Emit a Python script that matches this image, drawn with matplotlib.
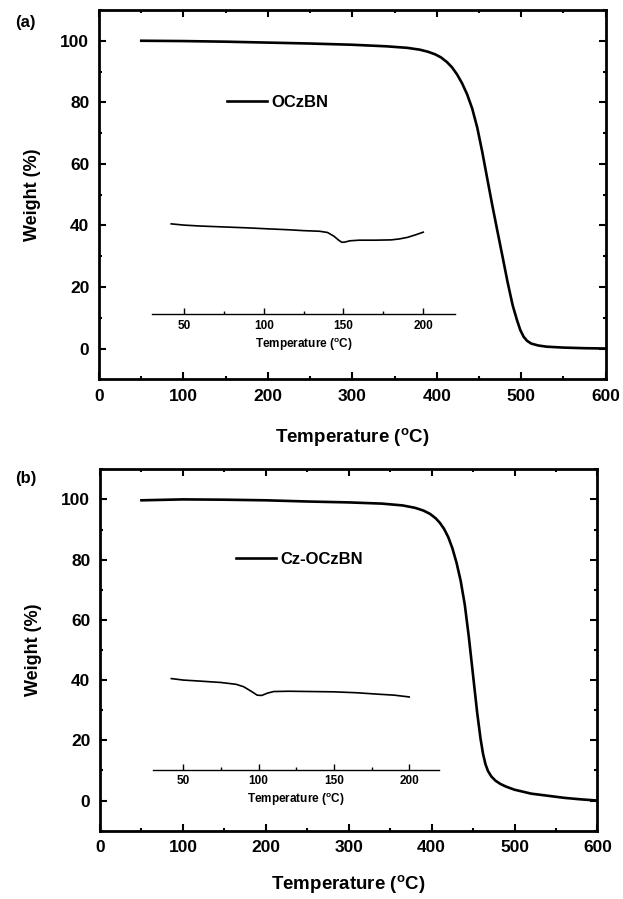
import matplotlib
matplotlib.use("Agg")
import matplotlib.pyplot as plt
from matplotlib.ticker import MultipleLocator

plt.rcParams['font.family'] = ['Liberation Sans', 'DejaVu Sans']
plt.rcParams['font.weight'] = 'bold'
plt.rcParams['mathtext.fontset'] = 'custom'
plt.rcParams['mathtext.bf'] = 'Liberation Sans:bold'
plt.rcParams['mathtext.rm'] = 'Liberation Sans:bold'

# (a) OCzBN TGA
temp_a = [50, 100, 150, 200, 250, 300, 340, 365, 380, 390, 398, 405, 412, 418, 424,
          430, 436, 442, 448, 454, 460, 466, 472, 478, 484, 490, 495, 499, 503, 507,
          512, 520, 530, 550, 575, 600]
weight_a = [100, 99.9, 99.7, 99.4, 99.1, 98.7, 98.2, 97.7, 97.1, 96.4, 95.6, 94.6,
            93.1, 91.4, 89.1, 86.2, 82.6, 78.0, 71.8, 63.8, 55.0, 46.3, 38.0, 29.8,
            21.5, 14.0, 9.3, 6.0, 3.8, 2.5, 1.6, 1.0, 0.6, 0.3, 0.1, 0.0]

# (a) inset (DSC trace, arbitrary units)
temp_a_in = [42, 50, 60, 75, 90, 102, 115, 125, 135, 140, 144, 147, 149, 151, 154,
             160, 170, 180, 185, 190, 195, 200]
sig_a_in = [40.5, 40.1, 39.8, 39.5, 39.2, 38.9, 38.6, 38.3, 38.1, 37.7, 36.5, 35.2,
            34.5, 34.6, 35.0, 35.2, 35.2, 35.3, 35.6, 36.1, 36.9, 37.8]

# (b) Cz-OCzBN TGA
temp_b = [50, 100, 150, 200, 250, 300, 340, 365, 380, 390, 398, 405, 410, 415, 420,
          425, 430, 435, 440, 445, 450, 455, 459, 462, 465, 468, 472, 477, 483, 490,
          500, 520, 540, 560, 580, 600]
weight_b = [99.7, 100, 99.9, 99.7, 99.3, 99.0, 98.6, 98.0, 97.2, 96.3, 95.2, 93.7,
            92.2, 90.2, 87.5, 83.8, 79.0, 73.0, 65.0, 54.0, 41.5, 29.0, 20.5, 15.5,
            12.0, 9.8, 8.0, 6.6, 5.5, 4.6, 3.6, 2.3, 1.6, 0.9, 0.4, 0.0]

# (b) inset
temp_b_in = [42, 50, 60, 75, 85, 90, 95, 99, 102, 106, 110, 120, 135, 150, 165, 180,
             190, 200]
sig_b_in = [40.5, 40.0, 39.7, 39.2, 38.6, 37.8, 36.3, 35.0, 34.9, 35.7, 36.2, 36.3,
            36.2, 36.1, 35.8, 35.3, 35.0, 34.4]

xlab = r'Temperature ($^{\mathbf{o}}$C)'

fig = plt.figure(figsize=(6.23, 8.99), dpi=100)


def panel(pos, temp, weight, name, leg_xy, tin, sin, inset_box, tag, tag_y, xpad):
    ax = fig.add_axes(pos)
    ax.plot(temp, weight, color='black', lw=1.9, label=name)
    ax.set_xlim(0, 600)
    ax.set_ylim(-10, 110)
    ax.xaxis.set_major_locator(MultipleLocator(100))
    ax.xaxis.set_minor_locator(MultipleLocator(50))
    ax.yaxis.set_major_locator(MultipleLocator(20))
    ax.yaxis.set_minor_locator(MultipleLocator(10))
    ax.tick_params(which='both', direction='in', top=True, right=True, width=1.5)
    ax.tick_params(which='major', length=5, labelsize=12.5, pad=7)
    ax.tick_params(which='minor', length=2.5)
    for lab in ax.get_xticklabels() + ax.get_yticklabels():
        lab.set_fontweight('bold')
    for s in ax.spines.values():
        s.set_linewidth(2)
    ax.set_xlabel(xlab, fontsize=13.5, fontweight='bold', labelpad=xpad)
    ax.set_ylabel('Weight (%)', fontsize=13, fontweight='bold', labelpad=14)
    ax.legend(loc='center left', bbox_to_anchor=leg_xy, frameon=False,
              handlelength=2.4, handletextpad=0.25, borderaxespad=0,
              prop={'size': 12, 'weight': 'bold'})
    fig.text(0.024, tag_y, tag, fontsize=12, fontweight='bold', va='center')

    ins = ax.inset_axes(inset_box, transform=ax.transData)
    ins.plot(tin, sin, color='black', lw=1.2)
    ins.set_xlim(30, 220)
    ins.set_ylim(inset_box[1], inset_box[1] + inset_box[3])
    ins.patch.set_alpha(0)
    for k in ['left', 'right', 'top']:
        ins.spines[k].set_visible(False)
    ins.spines['bottom'].set_linewidth(1)
    ins.set_yticks([])
    ins.xaxis.set_major_locator(MultipleLocator(50))
    ins.xaxis.set_minor_locator(MultipleLocator(25))
    ins.tick_params(which='both', direction='in', width=1)
    ins.tick_params(which='major', length=4, labelsize=8.5, pad=4)
    ins.tick_params(which='minor', length=2)
    for lab in ins.get_xticklabels():
        lab.set_fontweight('bold')
    ins.set_xlabel(xlab, fontsize=8.5, fontweight='bold', labelpad=3)
    return ax


panel([0.159, 0.5781, 0.813, 0.4108], temp_a, weight_a, 'OCzBN', (0.24, 0.75),
      temp_a_in, sig_a_in, [62.8, 11.2, 359, 36.8], '(a)', 0.975, 16)
panel([0.1605, 0.076, 0.7985, 0.402], temp_b, weight_b, 'Cz-OCzBN', (0.26, 0.75),
      temp_b_in, sig_b_in, [64.3, 10.3, 345, 37.7], '(b)', 0.468, 13)

fig.savefig('out.png', dpi=100)
